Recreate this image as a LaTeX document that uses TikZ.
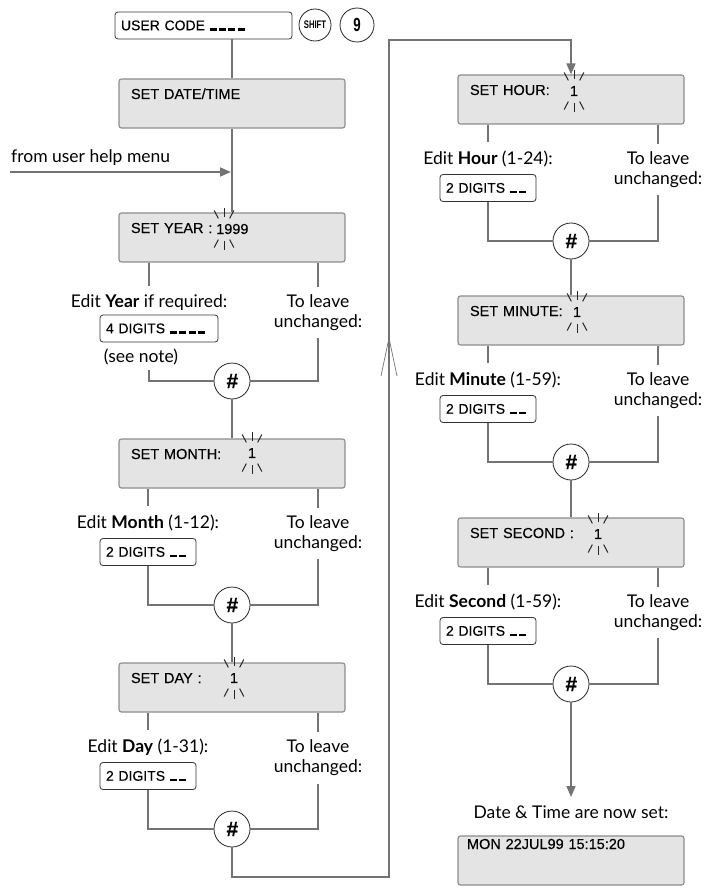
\documentclass[tikz,border=0pt]{standalone}
\usepackage{fontspec}
\setmainfont{Lato}
\newfontfamily\lcdfont[FakeBold=0.3]{Liberation Sans}
\newfontfamily\keyfont[FakeStretch=0.7]{Liberation Sans}
\usetikzlibrary{arrows.meta, calc}

\definecolor{linegray}{HTML}{737373}
\definecolor{boxgray}{HTML}{8C8C8C}
\definecolor{lcdfill}{HTML}{E4E4E4}

\newcommand{\slot}{\rule[-0.3pt]{7pt}{2.2pt}\hspace{2.4pt}}

\begin{document}
\begin{tikzpicture}[
    x=1pt, y=-1pt,
    lcd/.style={
        rectangle, draw=boxgray, fill=lcdfill, line width=1.1pt,
        rounded corners=2.5pt, inner xsep=12pt, inner ysep=0pt,
        text width=202pt, align=left, text height=20pt, text depth=29pt,
        font=\lcdfont\fontsize{14.5}{16}\selectfont
    },
    keybox/.style={
        rectangle, draw=black!80, fill=white, line width=0.8pt,
        rounded corners=3pt, inner xsep=6pt, inner ysep=0pt,
        minimum height=27pt, align=left,
        font=\lcdfont\fontsize{14}{15}\selectfont
    },
    circkey/.style={
        circle, draw=black!85, fill=white, line width=0.8pt, inner sep=0pt,
        font=\keyfont\bfseries
    },
    hashkey/.style={
        circle, draw=black!85, fill=white, line width=0.8pt,
        minimum size=36pt, inner sep=0pt,
        font=\lcdfont\bfseries\itshape\fontsize{21}{21}\selectfont
    },
    txt/.style={inner sep=0pt, font=\fontsize{17.5}{19.5}\selectfont},
    edit/.style={txt, inner ysep=8pt, anchor=base},
    keep/.style={txt, inner ysep=8pt, align=center},
    digit/.style={inner sep=0pt, font=\lcdfont\fontsize{14.5}{16}\selectfont},
    ray/.style={line width=1pt, black!85},
    link/.style={draw=linegray, line width=1.6pt},
    arr/.style={-{Triangle[length=11pt, width=9pt]}},
]
\useasboundingbox (0,0) rectangle (709,888);

% Start
\node[keybox, text width=165pt] (ucode) at (203.5,25.5) {USER CODE \slot\slot\slot\slot};
\node[circkey, minimum size=32pt, font=\keyfont\bfseries\fontsize{11}{11}\selectfont] (shift) at (315,25) {SHIFT};
\node[circkey, minimum size=34pt, font=\keyfont\bfseries\fontsize{19}{19}\selectfont] (nine) at (357,25) {9};

\node[lcd] (setdt) at (232,103.5) {SET DATE/TIME};

\draw[link] (ucode.south -| setdt) -- (setdt);

% Entry from help menu
\coordinate (helpin) at (10,172);
\node[txt, anchor=base west] (helptxt) at (11,162) {from user help menu};

% Year
\node[lcd] (yr) at (232,237.5) {SET YEAR :};
\node[digit, anchor=base west] (yrdig) at (216,234) {1999};
\coordinate (yrblink) at (224,229);
\foreach \a in {62,90,118,242,270,298}
    \draw[ray] ($(yrblink)+(\a:12)$) -- ($(yrblink)+(\a:21)$);
\node[edit] (yredit) at (149,307) {Edit \textbf{Year} if required:};
\node[keep] (yrkeep) at (318,312.5) {To leave\\unchanged:};
\node[keybox, text width=106pt] (yrkey) at (159,328.5) {4 DIGITS \slot\slot\slot\slot};
\node[txt, inner ysep=5pt, anchor=base] (yrnote) at (141,362) {(see note)};
\node[hashkey] (yrhash) at (232,381) {\#};

\draw[link] (setdt) -- (yr);
\draw[link, arr, shorten >=1pt] (helpin) -- (helpin -| yr);
\draw[link] (yr.south -| yredit) -- (yredit);
\draw[link] (yredit |- yrnote.south) |- (yrhash);
\draw[link] (yr.south -| yrkeep) -- (yrkeep);
\draw[link] (yrkeep) |- (yrhash);

% Month
\node[lcd] (mo) at (232,463.5) {SET MONTH:};
\node[digit] (modig) at (252,453) {1};
\foreach \a in {62,90,118,242,270,298}
    \draw[ray] ($(modig)+(\a:12)$) -- ($(modig)+(\a:21)$);
\node[edit] (moedit) at (148,528) {Edit \textbf{Month} (1-12):};
\node[keep] (mokeep) at (318,533.5) {To leave\\unchanged:};
\node[keybox, text width=84pt] (mokey) at (148,552) {2 DIGITS \slot\slot};
\node[hashkey] (mohash) at (232,605) {\#};

\draw[link] (yrhash) -- (mo);
\draw[link] (mo.south -| moedit) -- (moedit);
\draw[link] (mokey) |- (mohash);
\draw[link] (mo.south -| mokeep) -- (mokeep);
\draw[link] (mokeep) |- (mohash);

% Day
\node[lcd] (dy) at (232,687.5) {SET DAY :};
\node[digit] (dydig) at (234,678) {1};
\foreach \a in {62,90,118,242,270,298}
    \draw[ray] ($(dydig)+(\a:12)$) -- ($(dydig)+(\a:21)$);
\node[edit] (dyedit) at (148,752) {Edit \textbf{Day} (1-31):};
\node[keep] (dykeep) at (318,757.5) {To leave\\unchanged:};
\node[keybox, text width=84pt] (dykey) at (148,776) {2 DIGITS \slot\slot};
\node[hashkey] (dyhash) at (232,829) {\#};

\draw[link] (mohash) -- (dy);
\draw[link] (dy.south -| dyedit) -- (dyedit);
\draw[link] (dykey) |- (dyhash);
\draw[link] (dy.south -| dykeep) -- (dykeep);
\draw[link] (dykeep) |- (dyhash);

% Hour
\node[lcd] (hr) at (571,99.5) {SET HOUR:};
\node[digit] (hrdig) at (574,91) {1};
\foreach \a in {62,90,118,242,270,298}
    \draw[ray] ($(hrdig)+(\a:12)$) -- ($(hrdig)+(\a:21)$);
\node[edit] (hredit) at (488,164) {Edit \textbf{Hour} (1-24):};
\node[keep] (hrkeep) at (658,169.5) {To leave\\unchanged:};
\node[keybox, text width=84pt] (hrkey) at (488,188) {2 DIGITS \slot\slot};
\node[hashkey] (hrhash) at (571,241) {\#};

% loop over to the second column
\coordinate (loopbot) at (389,877);
\coordinate (looptop) at (389,40);
\coordinate (chev) at (389,338);
\draw[link, arr] (dyhash) |- (loopbot) -- (looptop) -| (hr);
\draw[line width=0.7pt, linegray] ($(chev)+(-8,38)$) -- (chev) -- ($(chev)+(8,38)$);

\draw[link] (hr.south -| hredit) -- (hredit);
\draw[link] (hrkey) |- (hrhash);
\draw[link] (hr.south -| hrkeep) -- (hrkeep);
\draw[link] (hrkeep) |- (hrhash);

% Minute
\node[lcd] (mi) at (571,320.5) {SET MINUTE:};
\node[digit] (midig) at (577,312) {1};
\foreach \a in {62,90,118,242,270,298}
    \draw[ray] ($(midig)+(\a:12)$) -- ($(midig)+(\a:21)$);
\node[edit] (miedit) at (488,385) {Edit \textbf{Minute} (1-59):};
\node[keep] (mikeep) at (658,390.5) {To leave\\unchanged:};
\node[keybox, text width=84pt] (mikey) at (488,409) {2 DIGITS \slot\slot};
\node[hashkey] (mihash) at (571,462) {\#};

\draw[link] (hrhash) -- (mi);
\draw[link] (mi.south -| miedit) -- (miedit);
\draw[link] (mikey) |- (mihash);
\draw[link] (mi.south -| mikeep) -- (mikeep);
\draw[link] (mikeep) |- (mihash);

% Second
\node[lcd] (sc) at (571,542.5) {SET SECOND :};
\node[digit] (scdig) at (598,534) {1};
\foreach \a in {62,90,118,242,270,298}
    \draw[ray] ($(scdig)+(\a:12)$) -- ($(scdig)+(\a:21)$);
\node[edit] (scedit) at (488,607) {Edit \textbf{Second} (1-59):};
\node[keep] (sckeep) at (658,612.5) {To leave\\unchanged:};
\node[keybox, text width=84pt] (sckey) at (488,631) {2 DIGITS \slot\slot};
\node[hashkey] (schash) at (571,684) {\#};

\draw[link] (mihash) -- (sc);
\draw[link] (sc.south -| scedit) -- (scedit);
\draw[link] (sckey) |- (schash);
\draw[link] (sc.south -| sckeep) -- (sckeep);
\draw[link] (sckeep) |- (schash);

% Done
\node[edit] (donetxt) at (571,818) {Date \& Time are now set:};
\node[lcd, inner xsep=9pt, text width=208pt, text height=13pt, text depth=36pt] (done) at (571,860.5) {MON 22JUL99 15:15:20};

\draw[link, arr] (schash) -- (donetxt);

\end{tikzpicture}
\end{document}
